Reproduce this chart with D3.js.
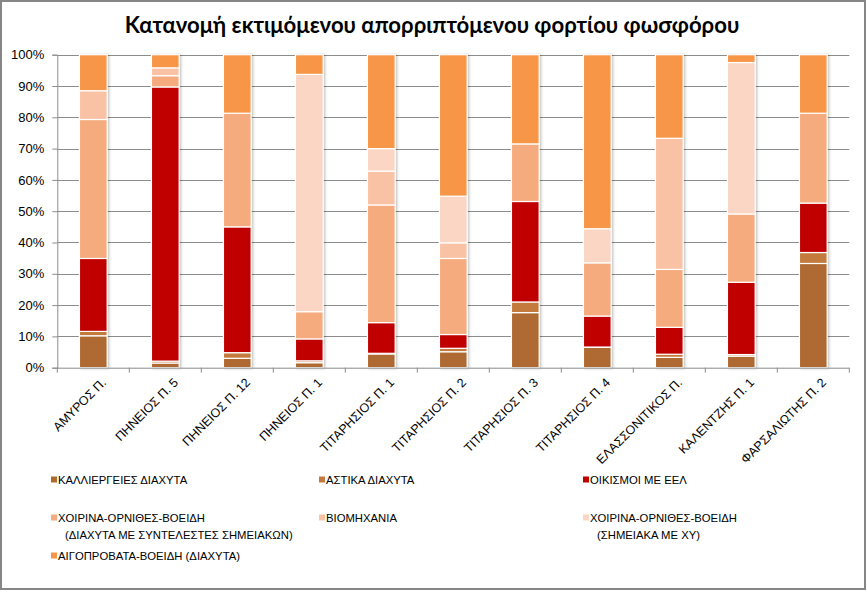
<!DOCTYPE html>
<html>
<head>
<meta charset="utf-8">
<script src="https://cdn.jsdelivr.net/npm/d3@7"></script>
<style>
  html, body { margin: 0; padding: 0; background: #fff; }
  svg { display: block; }
</style>
</head>
<body>
<svg id="chart" width="867" height="592"></svg>
<script>
const categories = ["ΑΜΥΡΟΣ Π.", "ΠΗΝΕΙΟΣ Π. 5", "ΠΗΝΕΙΟΣ Π. 12", "ΠΗΝΕΙΟΣ Π. 1", "ΤΙΤΑΡΗΣΙΟΣ Π. 1", "ΤΙΤΑΡΗΣΙΟΣ Π. 2", "ΤΙΤΑΡΗΣΙΟΣ Π. 3", "ΤΙΤΑΡΗΣΙΟΣ Π. 4", "ΕΛΑΣΣΟΝΙΤΙΚΟΣ Π.", "ΚΑΛΕΝΤΖΗΣ Π. 1", "ΦΑΡΣΑΛΙΩΤΗΣ Π. 2"];

const seriesNames = [
  "ΚΑΛΛΙΕΡΓΕΙΕΣ ΔΙΑΧΥΤΑ",
  "ΑΣΤΙΚΑ ΔΙΑΧΥΤΑ",
  "ΟΙΚΙΣΜΟΙ ΜΕ  ΕΕΛ",
  "ΧΟΙΡΙΝΑ-ΟΡΝΙΘΕΣ-ΒΟΕΙΔΗ\n(ΔΙΑΧΥΤΑ ΜΕ ΣΥΝΤΕΛΕΣΤΕΣ ΣΗΜΕΙΑΚΩΝ)",
  "ΒΙΟΜΗΧΑΝΙΑ",
  "ΧΟΙΡΙΝΑ-ΟΡΝΙΘΕΣ-ΒΟΕΙΔΗ\n(ΣΗΜΕΙΑΚΑ ΜΕ ΧΥ)",
  "ΑΙΓΟΠΡΟΒΑΤΑ-ΒΟΕΙΔΗ  (ΔΙΑΧΥΤΑ)"
];

const kalliergeies = [10.2, 1.5, 3.0, 1.6, 4.4, 5.1, 17.6, 6.5, 3.3, 3.7, 33.3];
const astika       = [1.4, 0.6, 1.8, 0.6, 0.2, 1.1, 3.4, 0.1, 1.0, 0.5, 3.5];
const oikismoi     = [23.3, 87.6, 40.2, 7.0, 9.8, 4.4, 32.1, 9.9, 8.6, 23.1, 15.8];
const xoirinaDiax  = [44.4, 3.6, 36.3, 8.7, 37.6, 24.3, 18.4, 17.0, 18.5, 21.8, 28.7];
const viomixania   = [9.2, 2.5, 0, 0, 10.8, 5.0, 0, 0, 41.9, 0, 0];
const xoirinaSim   = [0, 0, 0, 75.8, 7.2, 14.9, 0, 10.9, 0, 48.4, 0];
const aigoprovata  = [11.5, 4.2, 18.7, 6.3, 30.0, 45.2, 28.5, 55.6, 26.7, 2.5, 18.7];

const yTicks = [0, 10, 20, 30, 40, 50, 60, 70, 80, 90, 100];
const colors = ["#AE6A31", "#C47A3E", "#C00000", "#F6AB7E", "#F9C2A5", "#FBD6C4", "#F79646"];

const seriesValues = [kalliergeies, astika, oikismoi, xoirinaDiax, viomixania, xoirinaSim, aigoprovata];
const keys = seriesValues.map((_, i) => "s" + i);
const table = categories.map((c, j) => {
  const row = { cat: c };
  keys.forEach((k, i) => row[k] = seriesValues[i][j]);
  return row;
});

const svg = d3.select("#chart");
const plot = { left: 57.3, right: 849.3, top: 54.7, bottom: 367.7 };

// frame
svg.append("rect").attr("x", 1).attr("y", 1).attr("width", 864).attr("height", 588)
  .attr("fill", "#fff").attr("stroke", "#868686").attr("stroke-width", 2);

// defs shadow
const defs = svg.append("defs");
const f = defs.append("filter").attr("id", "shadow").attr("x", "-20%").attr("y", "-5%").attr("width", "150%").attr("height", "110%");
f.append("feDropShadow").attr("dx", 1.5).attr("dy", 0.5).attr("stdDeviation", 0.8)
  .attr("flood-color", "#000").attr("flood-opacity", 0.22);

// title
const title = svg.append("text")
  .attr("x", 432).attr("y", 33)
  .attr("text-anchor", "middle")
  .attr("font-family", "Lato, 'Open Sans', sans-serif")
  .attr("font-weight", "bold")
  .attr("font-size", 21)
  .attr("fill", "#000")
  .text("Κατανομή εκτιμόμενου απορριπτόμενου φορτίου φωσφόρου");
(function fit(){
  const target = 615;
  const len = title.node().getComputedTextLength();
  if (len > 0) title.attr("font-size", 21 * target / len);
})();

const x = d3.scaleBand().domain(categories).range([plot.left, plot.right]).paddingInner(0.615).paddingOuter(0.3075);
const y = d3.scaleLinear().domain([0, 100]).range([plot.bottom, plot.top]);

// grid
svg.append("g").selectAll("line").data(yTicks.filter(d => d > 0)).join("line")
  .attr("x1", plot.left).attr("x2", plot.right)
  .attr("y1", d => Math.round(y(d)) + 0.5).attr("y2", d => Math.round(y(d)) + 0.5)
  .attr("stroke", "#8c8c8c").attr("stroke-width", 1);

// y axis
const yAxis = d3.axisLeft(y).tickValues(yTicks).tickFormat(d => d + "%").tickSize(5).tickPadding(8);
const gy = svg.append("g").attr("transform", `translate(${plot.left},0)`).call(yAxis);
gy.select(".domain").attr("stroke", "#8c8c8c");
gy.selectAll(".tick line").attr("stroke", "#8c8c8c");
gy.selectAll(".tick text").attr("font-family", "'Liberation Sans', Arial, sans-serif").attr("font-size", 13).attr("fill", "#000");

// bars
const stacked = d3.stack().keys(keys)(table);
const gBars = svg.append("g");
stacked.forEach((layer, i) => {
  gBars.append("g").attr("fill", colors[i])
    .selectAll("rect").data(layer.filter(d => d[1] - d[0] > 0)).join("rect")
    .attr("x", d => x(d.data.cat))
    .attr("width", x.bandwidth())
    .attr("y", d => y(d[1]))
    .attr("height", d => y(d[0]) - y(d[1]))
    .attr("stroke", "#fff").attr("stroke-width", 1.2);
});
gBars.attr("filter", "url(#shadow)");

// x axis
const xTickScale = d3.scaleLinear().domain([0, categories.length]).range([plot.left, plot.right]);
const gx = svg.append("g");
gx.append("line").attr("x1", plot.left).attr("x2", plot.right)
  .attr("y1", plot.bottom + 0.5).attr("y2", plot.bottom + 0.5).attr("stroke", "#8c8c8c");
gx.selectAll(".xt").data(d3.range(categories.length + 1)).join("line")
  .attr("x1", d => xTickScale(d)).attr("x2", d => xTickScale(d))
  .attr("y1", plot.bottom).attr("y2", plot.bottom + 5).attr("stroke", "#8c8c8c");
gx.selectAll("text").data(categories).join("text")
  .attr("transform", d => `translate(${x(d) + x.bandwidth() / 2 + 7},${plot.bottom + 9}) rotate(-45)`)
  .attr("text-anchor", "end")
  .attr("dy", "0.75em")
  .attr("font-family", "'Liberation Sans', Arial, sans-serif")
  .attr("font-size", 12.5)
  .attr("fill", "#000")
  .text(d => d);

// legend
const legendPos = [
  { x: 51, y: 480 }, { x: 319, y: 480 }, { x: 583, y: 480 },
  { x: 51, y: 518 }, { x: 319, y: 518 }, { x: 583, y: 518 },
  { x: 51, y: 556 }
];
const gl = svg.append("g").attr("font-family", "'Liberation Sans Narrow', 'Liberation Sans', Arial, sans-serif").attr("font-size", 11.3).attr("fill", "#000");
seriesNames.forEach((name, i) => {
  const p = legendPos[i];
  gl.append("rect").attr("x", p.x).attr("y", p.y - 3.5).attr("width", 6).attr("height", 6).attr("fill", colors[i]);
  const lines = name.split("\n");
  lines.forEach((ln, k) => {
    gl.append("text").attr("x", p.x + 7 + (k > 0 ? 7 : 0)).attr("y", p.y + k * 17).attr("dy", "0.35em").text(ln);
  });
});
</script>
</body>
</html>
